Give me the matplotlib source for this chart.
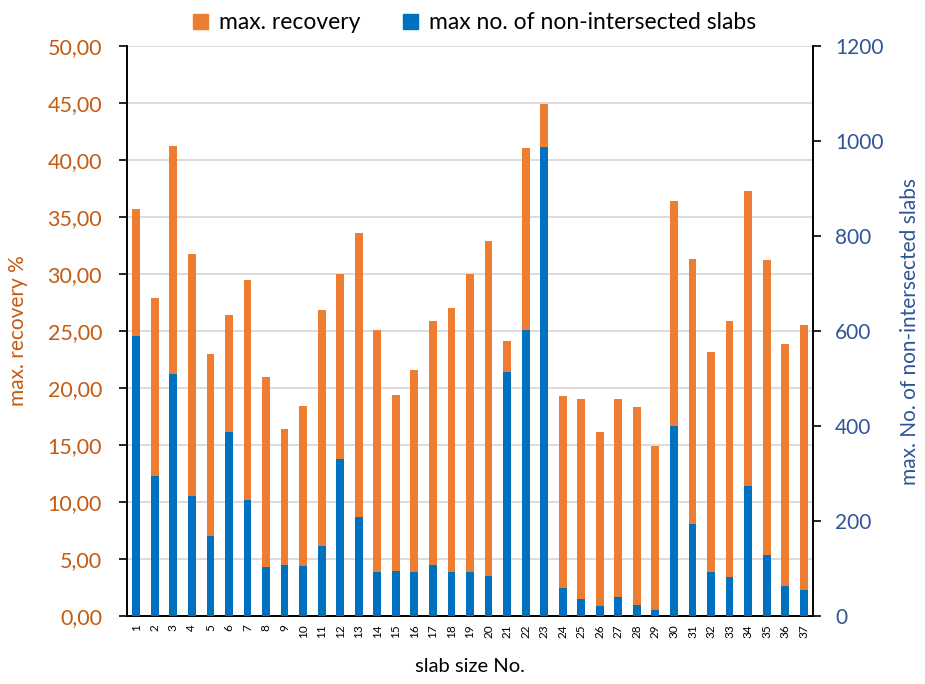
import matplotlib
matplotlib.use("Agg")
import matplotlib.pyplot as plt
from matplotlib.patches import Patch

plt.rcParams['font.family'] = ['Lato', 'DejaVu Sans']

slab_no = list(range(1, 38))
recovery = [35.7, 27.9, 41.2, 31.8, 23.0, 26.4, 29.5, 21.0, 16.4, 18.45,
            26.85, 30.0, 33.6, 25.1, 19.4, 21.6, 25.9, 27.05, 30.0, 32.9,
            24.1, 41.05, 44.9, 19.3, 19.05, 16.1, 19.0, 18.3, 14.95, 36.4,
            31.3, 23.2, 25.9, 37.3, 31.2, 23.85, 25.55]
non_intersected = [589, 295, 510, 252, 169, 388, 244, 104, 107, 106,
                   148, 330, 208, 92, 95, 93, 107, 93, 93, 85,
                   514, 603, 987, 58, 36, 22, 39, 24, 13, 401,
                   194, 92, 82, 274, 128, 63, 54]
left_ticks = [0, 5, 10, 15, 20, 25, 30, 35, 40, 45, 50]
right_ticks = [0, 200, 400, 600, 800, 1000, 1200]

orange = '#ED7D31'
blue = '#0070C0'
orange_txt = '#C55A11'
blue_txt = '#2F5597'

fig = plt.figure(figsize=(9.25, 6.84), dpi=100)
ax = fig.add_axes([0.1373, 0.0994, 0.7416, 0.8333])
ax2 = ax.twinx()

w = 0.42
ax.bar(slab_no, recovery, width=w, color=orange, zorder=2)
ax2.bar(slab_no, non_intersected, width=w, color=blue, zorder=3)

ax.set_xlim(0.5, 37.5)
ax.set_ylim(0, 50)
ax2.set_ylim(0, 1200)
ax.set_yticks(left_ticks)
ax.set_yticklabels([f"{v:.2f}".replace('.', ',') for v in left_ticks],
                   color=orange_txt, fontsize=15.5)
ax2.set_yticks(right_ticks)
ax2.set_yticklabels([str(v) for v in right_ticks], color=blue_txt, fontsize=15)
ax.set_xticks(slab_no)
ax.set_xticklabels([str(v) for v in slab_no], rotation=90, fontsize=8.5)
ax.tick_params(axis='x', length=0, pad=6)
ax.tick_params(axis='y', direction='out', length=6, width=1.2, pad=12)
ax2.tick_params(axis='y', direction='out', length=6, width=1.2, pad=10)

ax.grid(axis='y', color='#D9D9D9', linewidth=1.3, zorder=0)
ax.set_axisbelow(True)

for a in (ax, ax2):
    a.spines['top'].set_visible(False)
    for s in ('left', 'right', 'bottom'):
        a.spines[s].set_color('black')
        a.spines[s].set_linewidth(1.2)

ax.set_ylabel('max. recovery %', color=orange_txt, fontsize=15, labelpad=14)
ax2.set_ylabel('max. No. of non-intersected slabs', color=blue_txt, fontsize=15, labelpad=12)
ax.set_xlabel('slab size No.', fontsize=14.5, labelpad=14)

handles = [Patch(color=orange, label='max. recovery'),
           Patch(color=blue, label='max no. of non-intersected slabs')]
fig.legend(handles=handles, loc='upper center', bbox_to_anchor=(0.513, 1.012), ncol=2,
           frameon=False, fontsize=16.5, handlelength=0.65, handleheight=0.65,
           handletextpad=0.45, columnspacing=1.9)

fig.savefig('out.png', dpi=100)
